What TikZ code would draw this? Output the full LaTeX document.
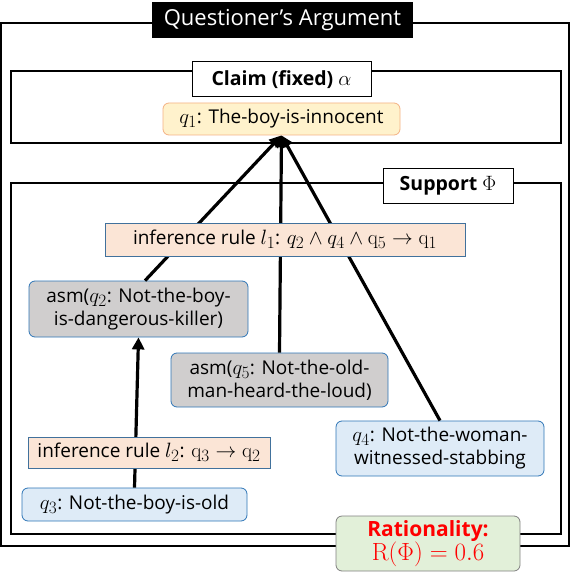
\documentclass[tikz,border=0pt]{standalone}
\usepackage{amsmath,amssymb}
\usepackage[no-math]{fontspec}
\setmainfont{Open Sans}
\usetikzlibrary{arrows.meta}
\DeclareMathSizes{19}{22}{16}{12}
\DeclareMathSizes{19.5}{22}{16}{12}
\definecolor{claimfill}{HTML}{FFF2CC}
\definecolor{claimline}{HTML}{F4B183}
\definecolor{asmfill}{HTML}{D0CECE}
\definecolor{factfill}{HTML}{DEEBF7}
\definecolor{ruleFill}{HTML}{FBE5D6}
\definecolor{boxblue}{HTML}{2E75B6}
\definecolor{ruleline}{HTML}{41719C}
\definecolor{ratfill}{HTML}{E2F0D9}
\definecolor{ratred}{HTML}{FF0000}

\tikzset{
  frame/.style={draw, line width=2pt},
  heading/.style={draw, line width=1pt, fill=white, inner sep=0pt,
    font=\fontsize{19.5}{23}\selectfont\bfseries},
  fact/.style={draw=boxblue, fill=factfill, rounded corners=6pt, line width=0.8pt,
    inner sep=0pt, align=center},
  asm/.style={fact, fill=asmfill},
  rulebox/.style={draw=ruleline, fill=ruleFill, line width=0.8pt, inner sep=0pt},
  link/.style={line width=3.2pt, -{Triangle[length=12pt,width=12pt]}},
}

\begin{document}
\begin{tikzpicture}[x=1pt, y=-1pt, font=\fontsize{19}{23}\selectfont]
\useasboundingbox (0,0) rectangle (570,572);
% frames
\draw[frame] (1,23) rectangle (569,546);
\draw[frame] (11,71) rectangle (561,143);
\draw[frame] (11,183) rectangle (561,534);
% statements
\node[fact, draw=claimline, fill=claimfill, minimum width=237pt, minimum height=32pt]
  (q1) at (281.5,119) {$q_1$: The-boy-is-innocent};
\node[asm, minimum width=219pt, minimum height=56pt]
  (asm2) at (138.5,309) {asm($q_2$: Not-the-boy-\\is-dangerous-killer)};
\node[asm, minimum width=217pt, minimum height=54pt]
  (asm5) at (279.5,380) {asm($q_5$: Not-the-old-\\man-heard-the-loud)};
\node[fact, minimum width=208pt, minimum height=55pt]
  (q4) at (440,448.5) {$q_4$: Not-the-woman-\\witnessed-stabbing};
\node[fact, minimum width=225pt, minimum height=33pt]
  (q3) at (134.5,504.5) {$q_3$: Not-the-boy-is-old};
% support links
\draw[link] (asm2.77) -- (q1.south);
\draw[link] (asm5.north) -- (q1.south);
\draw[link] (q4.north) -- (q1.south);
\draw[link] (q3.north) -- (asm2.south);
% rules
\node[rulebox, minimum width=360pt, minimum height=33pt]
  (rule1) at (285,239.5) {inference rule $l_1$: $q_2 \wedge q_4 \wedge \mathrm{q}_5 \rightarrow \mathrm{q}_1$};
\node[rulebox, minimum width=242pt, minimum height=31pt]
  (rule2) at (149,452.5) {inference rule $l_2$: $\mathrm{q}_3 \rightarrow \mathrm{q}_2$};
% headings
\node[fill=black, text=white, inner sep=0pt, minimum width=261pt, minimum height=36pt,
  font=\fontsize{22}{26}\selectfont] (title) at (282.5,20) {Questioner’s Argument};
\node[heading, minimum width=179pt, minimum height=35pt]
  (claim) at (281.5,79.5) {Claim (fixed) $\alpha$};
\node[heading, minimum width=130pt, minimum height=35pt]
  (support) at (448,185.5) {Support $\Phi$};
\node[fact, draw=gray, fill=ratfill, text=ratred, minimum width=184pt, minimum height=55pt]
  (rat) at (428,543.5) {{\fontsize{21}{25}\selectfont\bfseries Rationality:}\\
  {\fontsize{23}{25}\selectfont$\mathrm{R}(\Phi) = 0.6$}};
\end{tikzpicture}
\end{document}
